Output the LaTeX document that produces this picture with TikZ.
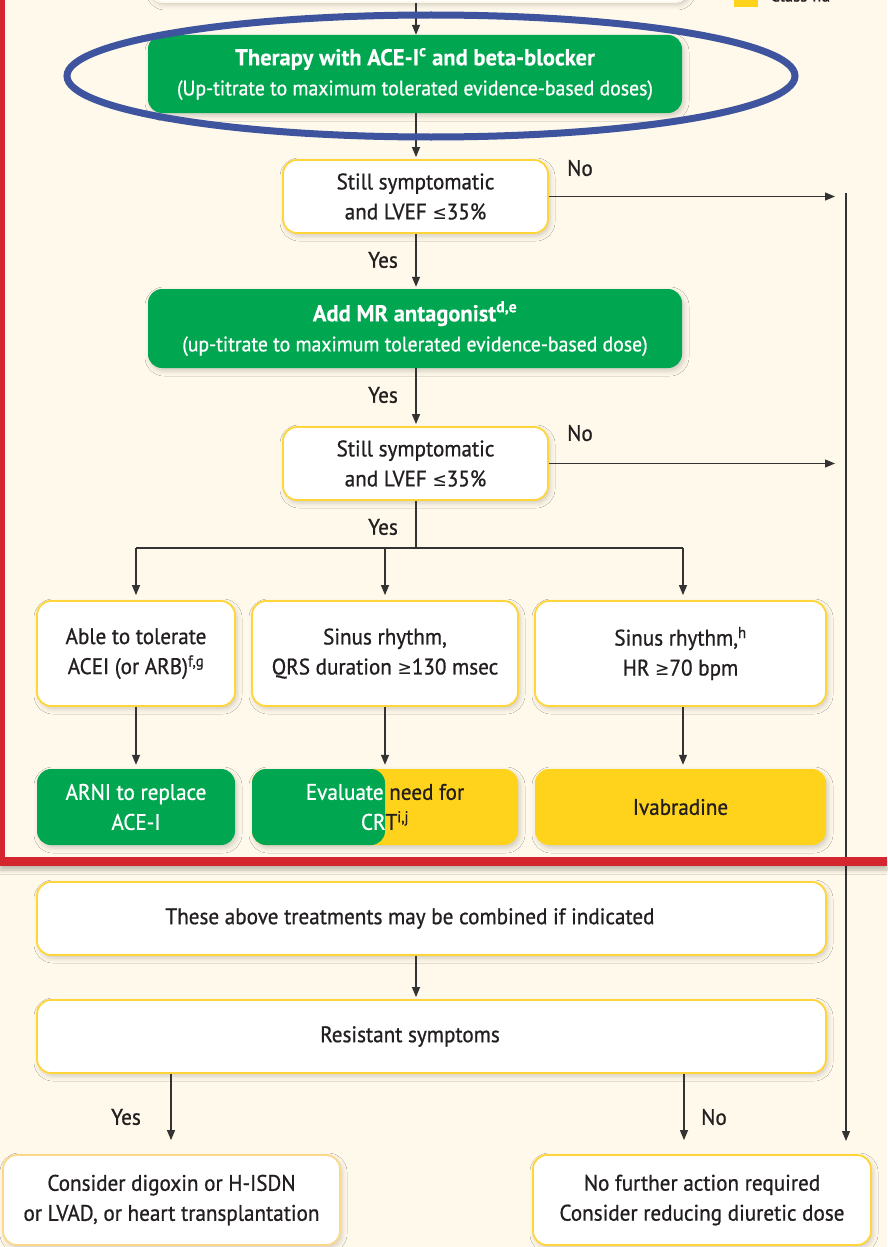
\documentclass[tikz,border=0pt]{standalone}
\usepackage{fontspec}
\setmainfont{PT Sans}[FakeStretch=0.94,FakeBold=0.8,BoldFeatures={FakeStretch=0.98,FakeBold=0.2}]
\newfontfamily\symf{DejaVu Sans}[FakeStretch=0.9]
\usetikzlibrary{arrows.meta,shadows.blur,calc}
\definecolor{bg}{HTML}{FEF9EA}
\definecolor{escgreen}{HTML}{00A650}
\definecolor{escyellow}{HTML}{FFD31C}
\definecolor{boxborder}{HTML}{FFD53A}
\definecolor{paleborder}{HTML}{FCD98A}
\definecolor{escred}{HTML}{D3262F}
\definecolor{escblue}{HTML}{3E549E}
\definecolor{linec}{HTML}{333333}
\definecolor{txt}{HTML}{231F20}
\newcommand{\myle}{{\symf\fontsize{19}{19}\selectfont ≤}}
\newcommand{\myge}{{\symf\fontsize{19}{19}\selectfont ≥}}
\begin{document}
\begin{tikzpicture}[x=1pt,y=-1pt,
  font=\fontsize{22.5}{30}\selectfont,
  base/.style={rounded corners=14pt, inner sep=0pt, align=center,
    blur shadow={shadow xshift=2pt, shadow yshift=-3pt, shadow blur radius=5pt, shadow opacity=18}},
  wbox/.style={base, fill=white, draw=boxborder, line width=1.8pt, text=txt},
  gbox/.style={base, fill=escgreen, text=white},
  ybox/.style={base, fill=escyellow, text=txt},
  arr/.style={draw=linec, line width=1.2pt, -{Triangle[length=10pt,width=8pt]}},
  plain/.style={draw=linec, line width=1.2pt},
  lbl/.style={text=txt, inner sep=0pt}]
\useasboundingbox (0,0) rectangle (887,1247);
\fill[bg] (0,0) rectangle (887,1247);

% legend (cut off)
\fill[escyellow] (734,-15) rectangle (758,7);
\node[lbl, anchor=base west, font=\fontsize{18}{20}\selectfont] (leg) at (770,1.5) {Class IIa};

% top box (cut off)
\node[wbox, draw=bg, minimum width=540pt, minimum height=40pt] (top) at (419,-18) {};

% green box 1
\node[gbox, minimum width=534pt, minimum height=78pt] (g1) at (415,74)
  {{\fontsize{23}{30}\selectfont\textbf{Therapy with ACE-I\textsuperscript{c} and beta-blocker}}\\{\fontsize{21}{30}\selectfont(Up-titrate to maximum tolerated evidence-based doses)}};
\coordinate (spine) at (416,0);
\draw[arr] (top.south -| spine) -- (g1.north -| spine);

% decision 1
\node[wbox, minimum width=265pt, minimum height=73pt] (d1) at (415.5,196.5)
  {Still symptomatic\\and LVEF \myle35\%};
\draw[arr] (g1.south -| spine) -- ([yshift=2pt]d1.north -| spine);

% green box 2
\node[gbox, minimum width=534pt, minimum height=79pt] (g2) at (415,328.5)
  {{\fontsize{23}{30}\selectfont\textbf{Add MR antagonist\textsuperscript{d,e}}}\\{\fontsize{21}{30}\selectfont(up-titrate to maximum tolerated evidence-based dose)}};
\draw[arr] (d1.south -| spine) -- ([yshift=2pt]g2.north -| spine);
\node[lbl] (yes1) at (383,260) {Yes};

% decision 2
\node[wbox, minimum width=265pt, minimum height=73pt] (d2) at (415.5,463.5)
  {Still symptomatic\\and LVEF \myle35\%};
\draw[arr] (g2.south -| spine) -- ([yshift=2pt]d2.north -| spine);
\node[lbl] (yes2) at (383,395) {Yes};

% right rail
\coordinate (railtop) at (846,193);
\coordinate (railbot) at (846,1141);
\coordinate (tipx) at (835,0);
\draw[arr] (railtop) -- (railbot);
\draw[arr] (d1.east) -- (d1.east -| tipx);
\draw[arr] (d2.east) -- (d2.east -| tipx);
\node[lbl] (no1) at (580,168) {No};
\node[lbl] (no2) at (580,433) {No};

% three options
\node[wbox, minimum width=198pt, minimum height=105pt] (A) at (136,653.5)
  {Able to tolerate\\ACEI (or ARB)\textsuperscript{f,g}};
\node[wbox, minimum width=266pt, minimum height=105pt] (B) at (385,653.5)
  {Sinus rhythm,\\QRS duration \myge130 msec};
\node[wbox, minimum width=291pt, minimum height=105pt] (C) at (680.5,653.5)
  {Sinus rhythm,\textsuperscript{h}\\HR \myge70 bpm};
\node[lbl] (yes3) at (383,527) {Yes};
\coordinate (bry) at (0,548);
\coordinate (cx) at (683,0);
\draw[plain] (d2.south -| spine) -- (spine |- bry);
\draw[plain] (A.north |- bry) -- (cx |- bry);
\draw[arr] (A.north |- bry) -- ([yshift=5pt]A.north);
\draw[arr] (B.north |- bry) -- ([yshift=5pt]B.north);
\draw[arr] (cx |- bry) -- ([yshift=5pt]C.north -| cx);

% treatments
\node[gbox, minimum width=198pt, minimum height=76pt] (arni) at (136,807)
  {ARNI to replace\\ACE-I};
\node[ybox, minimum width=266pt, minimum height=76pt,
  path picture={\fill[escgreen] (path picture bounding box.south west) rectangle (path picture bounding box.north);}] (crt) at (385,807)
  {\textcolor{white}{Evaluate} need for\\\textcolor{white}{CR}T\textsuperscript{i,j}};
\node[ybox, minimum width=291pt, minimum height=76pt] (iva) at (680.5,807) {Ivabradine};
\draw[arr] (A.south) -- ([yshift=4pt]arni.north);
\draw[arr] (B.south) -- ([yshift=4pt]crt.north);
\draw[arr] (C.south -| cx) -- ([yshift=4pt]iva.north -| cx);

% combined / resistant
\node[wbox, minimum width=789pt, minimum height=73pt] (comb) at (431.5,918.5) {};
\node[lbl] (combt) at (410,918.5) {These above treatments may be combined if indicated};
\node[wbox, minimum width=789pt, minimum height=73pt] (res) at (431.5,1036.5) {};
\node[lbl] (rest) at (410,1036.5) {Resistant symptoms};
\draw[arr] (comb.south -| spine) -- ([yshift=2pt]res.north -| spine);

% final boxes
\node[wbox, draw=paleborder, minimum width=337pt, minimum height=90pt] (dig) at (171.5,1200)
  {Consider digoxin or H-ISDN\\or LVAD, or heart transplantation};
\node[wbox, minimum width=338pt, minimum height=90pt] (nof) at (702,1200)
  {No further action required\\Consider reducing diuretic dose};
\coordinate (ycol) at (171,0);
\coordinate (ncol) at (684,0);
\draw[arr] (res.south -| ycol) -- ([yshift=14pt]dig.north -| ycol);
\draw[arr] (res.south -| ncol) -- ([yshift=14pt]nof.north -| ncol);
\node[lbl] (yes4) at (126,1117) {Yes};
\node[lbl] (no3) at (714,1117) {No};

% highlight ellipse
\draw[escblue, line width=7pt] (431,76) ellipse [x radius=364, y radius=61];

% red frame
\fill[escred] (0,0) rectangle (4.5,866);
\fill[escred, blur shadow={shadow xshift=0pt, shadow yshift=-4pt, shadow blur radius=4pt, shadow opacity=25}] (0,857) rectangle (887,866);
\end{tikzpicture}
\end{document}
